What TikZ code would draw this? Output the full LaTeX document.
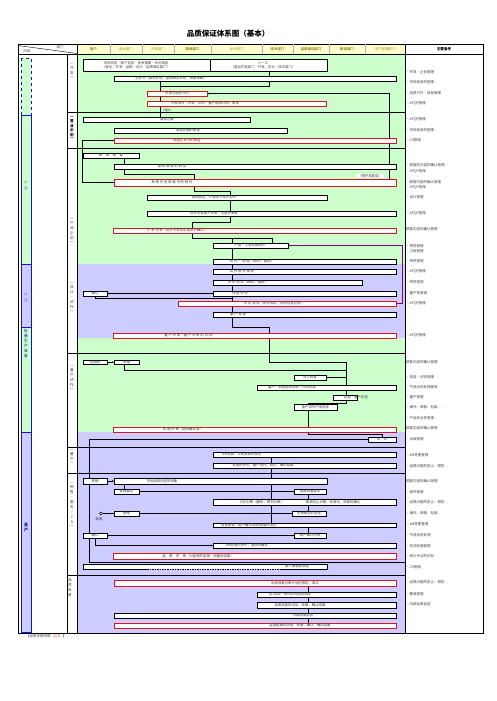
\documentclass[tikz,border=0pt]{standalone}
\usepackage{fontspec}
\setmainfont{Noto Sans CJK SC}
\usetikzlibrary{arrows.meta,calc}
\definecolor{grn}{RGB}{204,255,204}
\definecolor{lav}{RGB}{204,204,255}
\definecolor{hdr}{RGB}{255,255,204}
\definecolor{stg}{RGB}{20,20,200}
\definecolor{rd}{RGB}{220,20,30}
\definecolor{txt}{RGB}{60,60,60}
\definecolor{pur}{RGB}{128,0,128}
\definecolor{olv}{RGB}{150,140,50}
\pgfdeclarelayer{bg}\pgfdeclarelayer{ln}
\pgfsetlayers{bg,ln,main}
\tikzset{
 box/.style={draw=black,fill=white,line width=0.8pt,inner sep=0pt,outer sep=0pt},
 rbox/.style={box,draw=rd,line width=1pt},
 btxt/.style={inner sep=0pt,align=center,font=\fontsize{3.4}{3.9}\selectfont,text=txt},
 conn/.style={line width=0.75pt,draw=black},
 arr/.style={-{Stealth[length=2.2pt,width=1.8pt]}},
 remtxt/.style={anchor=west,inner sep=0pt,font=\fontsize{3.5}{4}\selectfont,text=txt},
 vlab/.style={align=center,inner sep=0pt,font=\fontsize{3.6}{5}\selectfont,text=txt},
 stagelab/.style={align=center,inner sep=0pt,font=\fontsize{3.8}{5}\selectfont,text=stg},
 hd/.style={inner sep=0pt,font=\fontsize{3.4}{4}\selectfont,text=olv},
 sepline/.style={line width=0.8pt},
}
% [style]{x1}{y1}{x2}{y2}{name}{text x}{text}
\newcommand\bx[8][]{%
 \node[box,#1,minimum width={(#4-#2)*1pt},minimum height={(#5-#3)*1pt}] (#6) at ({(#2+#4)/2},{-(#3+#5)/2}) {};
 \node[btxt] (#6-t) at (#7,{-(#3+#5)/2}) {#8};}
\begin{document}
\begin{tikzpicture}[x=1pt,y=1pt]
\useasboundingbox (0,0) rectangle (496,-701);
% ---------- background fills
\begin{pgfonlayer}{bg}
\fill[grn] (77,-54) rectangle (405,-264);
\fill[lav] (77,-264) rectangle (405,-338);
\fill[grn] (77,-338) rectangle (405,-432);
\fill[lav] (77,-432) rectangle (405,-633);
\fill[hdr] (77,-44) rectangle (405,-54);
\fill[grn] (21,-58) rectangle (31,-264);
\fill[lav] (21,-264) rectangle (31,-327);
\fill[grn] (21,-327) rectangle (31,-432);
\fill[lav] (21,-432) rectangle (31,-632);
\end{pgfonlayer}
% ---------- title
\node[font=\fontsize{7.5}{9}\selectfont\bfseries] (title) at (228,-34) {品质保证体系图（基本）};
% ---------- frame
\draw[line width=0.9pt] (18,-44) rectangle (483,-633);
\draw[line width=0.7pt] (18,-54) -- (483,-54);
\draw[line width=0.7pt] (67,-54) -- (67,-633);
\draw[line width=0.7pt] (77,-44) -- (77,-633);
\draw[line width=0.7pt] (405,-44) -- (405,-633);
\foreach \xx in {110,142,174,211,262,293,329,365}
  \draw[gray!60,line width=0.4pt] (\xx,-44) -- (\xx,-54);
\draw[line width=0.4pt] (18,-45.5) -- (77,-53.5);
\node[hd,text=txt] (hA) at (60,-47) {部门};
\node[hd,text=txt] (hB) at (27,-51.5) {阶段};
\node[hd,font=\fontsize{3.4}{4}\selectfont\bfseries] (h1) at (93.5,-49) {客户};
\node[hd] (h2) at (126,-49) {营业部门};
\node[hd] (h3) at (158,-49) {开发部门};
\node[hd,font=\fontsize{3.4}{4}\selectfont\bfseries] (h4) at (192.5,-49) {质保部门};
\node[hd] (h5) at (236.5,-49) {设计部门};
\node[hd,font=\fontsize{3.4}{4}\selectfont\bfseries] (h6) at (277.5,-49) {技术部门};
\node[hd,font=\fontsize{3.4}{4}\selectfont\bfseries] (h7) at (311,-49) {品质保证部门};
\node[hd,font=\fontsize{3.4}{4}\selectfont\bfseries] (h8) at (347,-49) {制造部门};
\node[hd] (h9) at (385,-49) {生产管理部门};
\node[hd,text=black,font=\fontsize{3.6}{4}\selectfont\bfseries] (h10) at (444,-49) {主要备考};
% ---------- separators
\foreach \yy in {112,148,353,447,473,575}
  \draw[sepline] (67,-\yy) -- (405,-\yy);
% ---------- stage column
\draw[stg,dashed,line width=0.6pt] (21,-58) rectangle (31,-115);
\draw[stg,line width=0.8pt] (21,-115) rectangle (31,-632);
\foreach \yy in {264,327,432} \draw[stg,line width=0.8pt] (21,-\yy) -- (31,-\yy);
\node[stagelab,text=stg!60] (s1) at (26,-188) {产\\品\\·};
\node[stagelab,text=stg!60] (s2) at (26,-298) {产\\品};
\node[stagelab,anchor=north] (s3) at (26,-329) {批\\量\\生\\产\\准\\备};
\node[stagelab,font=\fontsize{4}{5}\selectfont\bfseries] (s4) at (26,-528) {量\\产};
% ---------- sub-stage labels
\node[vlab] (t1) at (72,-72) {︵\\开\\发\\︶};
\node[vlab,text=black,font=\fontsize{3.6}{4.6}\selectfont\bfseries] (t2) at (72,-129) {︵\\营\\业\\企\\划\\︶};
\node[vlab] (t3) at (72,-232) {︵\\产\\品\\企\\划\\︶};
\node[vlab] (t4) at (72,-298) {︵\\设\\计\\·\\试\\作\\︶};
\node[vlab] (t5) at (72,-379) {︵\\量\\产\\试\\作\\︶};
\node[vlab] (t6) at (72,-458) {︵\\量\\产\\︶};
\node[vlab] (t7) at (72,-506) {︵\\销\\售\\·\\服\\务\\／\\C\\S\\︶};
\node[vlab,anchor=north] (t8) at (70,-578) {品\\质\\改\\善};
% ---------- boxes
\bx{83}{59}{210}{71}{A}{136}{市场信息·客户信息·竞争需要·专利调查\\（营业／开发／品保／设计／品质保证部门）}
\bx{210}{59}{327}{71}{B}{263}{シーズ\\（营业开发部门·开发／设计／技术部门）}
\bx{114}{76}{396}{81}{C}{171}{企划书（事业计划，品质保证计划，销售策略）}
\bx[rbox]{147}{91}{207}{96}{D}{177}{开发可能性评价}
\bx[rbox]{147}{101}{326}{106}{E}{205}{开发条件（开发·试作·量产品质计划）审查}
\node[btxt,font=\fontsize{3}{3.5}\selectfont] (yn) at (167,-110) {Y通过};
\bx{83}{117}{250}{122}{F}{167}{商品企画}
\bx{114}{128}{287}{133}{G}{188}{商品企画的审查}
\bx[rbox]{114}{138}{396}{143}{H}{187}{商品企划书的审查}
\bx{83}{153}{139}{158}{I}{111}{新　规　需　要}
\bx{114}{164}{396}{169}{J}{172}{品 质 需 要 的 调 查}
\bx[rbox]{114}{179}{396}{186}{K}{172}{新 规 开 发 规 格 书 的 制 作}
\node[btxt,fill=white,inner xsep=1pt] (kl) at (370,-176) {（需开发要请）};
\bx{147}{195}{327}{200}{L}{214}{目标设定，产品化开发计划书}
\bx{147}{211}{396}{216}{M}{214}{设计开发输入评审／主管评审会}
\bx[rbox]{113}{228}{396}{233}{N}{177}{开 发 评 审（设计开发的实施状况确认）}
\bx{213}{243}{288}{248}{O}{250}{产品·工程详细设计}
\bx{213}{259}{396}{264}{P}{252}{试 作 · 检 图（WBS／图纸）}
\bx{213}{269}{396}{274}{Q}{242}{试 作 品 评 审 会}
\bx{213}{280}{362}{285}{R}{248}{评 价 测 试（WBS／图纸）}
\bx{213}{291}{396}{296}{S}{240}{性 能 评 价}
\bx{83}{291}{107}{296}{T}{95}{确认}
\bx[rbox]{178}{301}{396}{306}{U}{274}{评 价 试 验（设计验证／试作检查记录）}
\bx{213}{312}{396}{317}{V}{238}{量 产 准 备}
\bx[rbox]{113}{333}{396}{338}{W}{190}{量 产 评 审（量 产 评 审 的 可 否）}
\bx{83}{360}{107}{364.5}{X}{95}{初期品}
\bx{114}{360}{139}{364.5}{Y}{126.5}{受理}
\bx{294}{375}{326}{380}{Z}{310}{导入检查}
\bx{257}{385}{396}{390}{AA}{292}{量产、制程品质控制·作业标准}
\bx{333}{395}{357}{400}{AB}{356}{初品·量产检查}
\bx{294}{404}{337}{410}{AC}{315.5}{量产试作产品检查}
\bx[rbox]{113}{427}{396}{432}{AD}{183}{初 期 评 审（品质确认会）}
\bx{368}{437}{396}{442}{AE}{382}{出　货}
\bx{213}{452}{396}{457}{AF}{242}{4M变更、工程变更的发生}
\bx{213}{463}{396}{468}{AG}{263}{变更的评价，量产试作、修正、确认结果}
\bx{83}{478}{107}{484}{AH}{95}{受理}
\bx{114}{478}{327}{484}{AI}{162}{市场品质信息的收集}
\bx{114}{489}{139}{494}{AJ}{126.5}{管理要求}
\bx{294}{489}{326}{494}{AK}{310}{品质改善要求}
\bx{213}{499}{396}{505}{AL}{300}{讨论对策（解析，研究对策）\hspace{22pt}再发防止对策，标准化，效果的确认}
\bx{114}{511}{139}{516}{AM}{126.5}{联络}
\bx{292}{511}{326}{516}{AN}{309}{对策报告的回答}
\bx{213}{523}{396}{527.5}{AO}{249}{变更申请·客户确认的4M变更的发生}
\bx{294}{533}{326}{538}{AP}{310}{客户确认手续}
\bx{83}{533}{107}{538}{AQ}{95}{确认}
\bx{213}{543}{396}{548}{AR}{247}{4M变更的评价，品质的确认}
\bx[rbox]{113}{553}{396}{559}{AS}{198}{品　质　评　审（对品质的监视·测量的结果）}
% box with partly dashed lower edge
\node[box,draw=none,minimum width=244pt,minimum height=5pt] (AT) at (205,-566.5) {};
\draw[line width=0.8pt] (147,-569) -- (83,-569) -- (83,-564) -- (327,-564) -- (327,-569) -- (280,-569);
\draw[line width=0.8pt,dash pattern=on 1.5pt off 1pt] (147,-569) -- (280,-569);
\node[btxt] (AT-t) at (297,-566.5) {客户满意度调查};
\bx[rbox]{114}{580}{396}{586}{AU}{295}{品质改善对策计划的报告，审议}
\bx{257}{592}{396}{597}{AV}{290}{QC活动·协作公司品质指导}
\bx{257}{602}{396}{608}{AW}{300}{品质改善的活动，效果，确认结果}
\bx{114}{613}{396}{618}{AX}{303}{内部品质监查}
\bx[rbox]{114}{623}{396}{628}{AY}{300}{监查结果的活动，改善，确认，确认结果}
% customer symbol
\node[draw,circle,inner sep=0pt,minimum size=3pt,line width=0.5pt,fill=white] (cust) at (101,-513.5) {};
\node[btxt] (custl) at (99,-519.5) {顾客};
% ---------- connectors
\coordinate (v82) at (82,0); \coordinate (v95) at (95,0);
\coordinate (v124) at (124,0); \coordinate (v160) at (160,0);
\coordinate (v192) at (192,0); \coordinate (v194) at (194,0);
\coordinate (v230) at (230,0); \coordinate (v232) at (232,0);
\coordinate (v269) at (269,0); \coordinate (v271) at (271,0);
\coordinate (v272) at (272,0); \coordinate (v308) at (308,0);
\coordinate (v346) at (346,0); \coordinate (v382) at (382,0);
\coordinate (v389) at (389,0);
\begin{pgfonlayer}{ln}
\draw[conn] (B.south -| v269) -- (269,-86) -- (160,-86);
\draw[conn] (C.south -| v160) -- (F.north -| v160);
\draw[conn,arr] (K.north -| v389) -- (389,-93.5) -- (D.east);
\draw[conn] (H.west) -- (82,-140.5) -- (82,-182.5) -- (K.west);
\draw[conn] (I.south -| v124) -- (J.north -| v124);
\draw[conn] (J.south -| v124) -- (124,-174) -- (194,-174) -- (K.north -| v194);
\draw[conn] (K.south -| v194) -- (194,-191) -- (230,-191) -- (L.north -| v230);
\draw[conn] (L.south -| v230) -- (M.north -| v230);
\draw[conn] (M.south -| v230) -- (230,-222) -- (192,-222) -- (N.north -| v192);
\draw[conn] (N.south -| v192) -- (192,-238) -- (272,-238) -- (O.north -| v272);
\draw[conn] (232,-238) -- (O.north -| v232);
\draw[conn] (O.south -| v232) -- (232,-327) -- (269,-327) -- (269,-362) -- (346,-362)
   -- (346,-403) -- (308,-403) -- (308,-434) -- (382,-434) -- (AE.north -| v382);
\draw[conn,arr] (S.west) -- (T.east);
\draw[conn] (T.south -| v95) -- (95,-298.5) -- (232,-298.5);
\draw[conn,pur,arr] (U.east) -- (402,-303.5) -- (402,-245.5) -- (O.east);
\draw[conn,arr] (X.east) -- (Y.west);
\draw[conn] (Y.south -| v124) -- (124,-370) -- (346,-370);
\draw[conn] (Z.east) -- (Z.east -| v346);
\draw[conn] (AE.west) -- (89,-439.5) -- (89,-562) -- (405,-562);
\draw[conn] (AF.south -| v271) -- (AO.north -| v271);
\draw[conn,arr] (AH.east) -- (AI.west);
\draw[conn] (AI.south -| v124) -- (AJ.north -| v124);
\draw[conn] (AJ.east) -- (AK.west);
\draw[conn] (AK.south -| v308) -- (AN.north -| v308);
\draw[conn] (cust.east) -- (AM.west);
\draw[conn] (AM.east) -- (AN.west);
\draw[conn] (AO.south -| v308) -- (AP.north -| v308);
\draw[conn,arr] (AP.west) -- (AQ.east);
\draw[conn,arr] (AQ.south -| v95) -- (95,-545.5) -- (AR.west);
\draw[conn] (AU.south -| v308) -- (AY.north -| v308);
\end{pgfonlayer}
% ---------- remarks
\foreach \yy/\rt [count=\i] in {
 72/{·开发·企划管理}, 82/{·市场信息的管理}, 93/{·品质方针·目标管理}, 103/{·APQP管理},
 119/{·APQP管理}, 130/{·市场信息的管理}, 140/{·CS管理},
 165/{·顾客的内容的确认管理}, 171/{·APQP管理}, 182/{·顾客内容的确认管理}, 187/{·APQP管理},
 197/{·设计管理}, 213/{·APQP管理}, 229/{顾客内容的确认管理},
 246/{·特性管理}, 251/{·工程管理}, 261/{·特性管理}, 271/{·APQP管理}, 282/{·特性管理},
 293/{·量产性管理}, 303/{·APQP管理}, 335/{·APQP管理}, 362/{顾客内容的确认管理},
 377/{·检查·试验管理}, 387/{·不适合的处理基准}, 397/{·量产管理}, 407/{·操作、保管、包装…},
 418/{·产品安全性管理}, 428/{顾客内容的确认管理}, 439/{·出库管理}, 455/{·4M变更管理},
 466/{·品质问题的防止／预防…}, 481/{顾客内容的确认管理}, 492/{·部件管理},
 502/{·品质问题的防止／预防…}, 513/{·操作、保管、包装…}, 524/{·4M变更管理},
 535/{·不适合的处理}, 546/{·检测仪器管理}, 556/{·统计手法的识别}, 567/{·CS管理},
 582/{·品质问题的防止／预防…}, 594/{·教育管理}, 604/{·内部品质监查}}
 \node[remtxt] (r\i) at (406,-\yy) {\rt};
% ---------- footer
\node[remtxt] (foot) at (26,-636.5) {【品质手册附图（\textcolor{rd}{1/2}）】};
\end{tikzpicture}
\end{document}
